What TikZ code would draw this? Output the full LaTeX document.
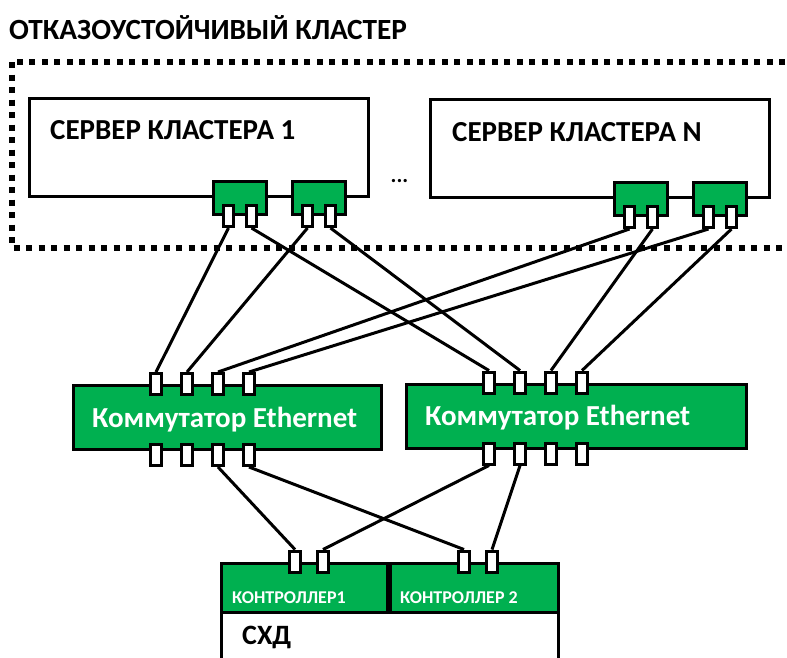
\documentclass[tikz,border=0pt]{standalone}
\usepackage{fontspec}
\setmainfont{Carlito}
\usetikzlibrary{calc}
\usetikzlibrary{positioning}

\definecolor{nicgreen}{RGB}{0,176,80}

\begin{document}
\begin{tikzpicture}[x=1pt,y=-1pt,
        box/.style={draw,line width=3pt,inner sep=0pt},
        srvbox/.style={box,fill=white,minimum width=339pt,minimum height=98pt},
        nicbox/.style={box,fill=nicgreen,minimum width=53pt,minimum height=33pt},
        portbox/.style={box,fill=white,line width=3pt,minimum width=10.5pt,minimum height=21pt},
        swbox/.style={box,fill=nicgreen,minimum height=64pt},
        ctrlbox/.style={box,fill=nicgreen,minimum height=49pt},
        link/.style={line width=3pt},
        dotframe/.style={line width=5.5pt,dash pattern=on 6pt off 6.5pt},
        boxtext/.style={anchor=west,inner sep=0pt,font=\bfseries},
        wtext/.style={boxtext,text=white}]

        \clip (0,0) rectangle (787,657);

        \node[boxtext,font=\bfseries\fontsize{29.3}{32}\selectfont] (title) at (9,28) {ОТКАЗОУСТОЙЧИВЫЙ КЛАСТЕР};
        \draw[dotframe] (12,62) rectangle (800,248);

        % servers with two NICs each
        \node[srvbox] (srv1) at (199,147.5) {};
        \node[srvbox] (srvn) at (600,148.5) {};
        \node[boxtext,font=\bfseries\fontsize{29}{31}\selectfont] (srv1txt) at ([xshift=22pt,yshift=-33pt]srv1.north west) {СЕРВЕР КЛАСТЕРА 1};
        \node[boxtext,font=\bfseries\fontsize{29}{31}\selectfont] (srvntxt) at ([xshift=23pt,yshift=-34pt]srvn.north west) {СЕРВЕР КЛАСТЕРА N};
        \node[inner sep=0pt,font=\bfseries\fontsize{22}{24}\selectfont] (dots) at ([yshift=-33pt]$(srv1.east)!0.5!(srvn.west)$) {...};

        \foreach \s in {srv1,srvn}{
            \node[nicbox] (\s a) at ([xshift=-130pt]\s.south east) {};
            \node[nicbox] (\s b) at ([xshift=-51pt]\s.south east) {};
            \foreach \n in {a,b}{
                \node[portbox] (\s\n1) at ([xshift=-11.5pt]\s\n.south) {};
                \node[portbox] (\s\n2) at ([xshift=11.5pt]\s\n.south) {};
            }
        }

        % switches
        \node[swbox,minimum width=308pt] (sw1) at (227.5,417.5) {};
        \node[swbox,minimum width=340pt] (sw2) at (576.5,416) {};
        \foreach \w in {sw1,sw2}{
            \node[wtext,font=\bfseries\fontsize{29}{31}\selectfont] (\w txt) at ([xshift=20pt,yshift=-2pt]\w.west) {Коммутатор Ethernet};
            \foreach \i in {1,...,4}{
                \node[portbox] (\w up\i) at ([xshift={84pt+31pt*(\i-1)}]\w.north west) {};
                \node[portbox] (\w dn\i) at ([xshift={84pt+31pt*(\i-1)},yshift=-4pt]\w.south west) {};
            }
        }

        % storage with two controllers
        \node[box,fill=white,minimum width=337pt,minimum height=120pt] (stor) at (390,623) {};
        \node[ctrlbox,minimum width=166pt] (ctl1) at (304.5,587.5) {};
        \node[ctrlbox,minimum width=168pt] (ctl2) at (474.5,587.5) {};
        \foreach \c in {ctl1,ctl2}{
            \node[portbox] (\c p1) at ([xshift=75pt]\c.north west) {};
            \node[portbox] (\c p2) at ([xshift=103pt]\c.north west) {};
        }
        \node[wtext,font=\bfseries\fontsize{18}{20}\selectfont] (ctl1txt) at ([xshift=12pt,yshift=-10pt]ctl1.west) {КОНТРОЛЛЕР1};
        \node[wtext,font=\bfseries\fontsize{18}{20}\selectfont] (ctl2txt) at ([xshift=11pt,yshift=-10pt]ctl2.west) {КОНТРОЛЛЕР 2};
        \node[boxtext,font=\bfseries\fontsize{28}{30}\selectfont] (stortxt) at (242,637) {СХД};

        % links servers - switches
        \draw[link] (srv1a1.south) -- (sw1up1.north);
        \draw[link] (srv1b1.south) -- (sw1up2.north);
        \draw[link] (srvna1.south) -- (sw1up3.north);
        \draw[link] (srvnb1.south) -- (sw1up4.north);
        \draw[link] (srv1a2.south) -- (sw2up1.north);
        \draw[link] (srv1b2.south) -- (sw2up2.north);
        \draw[link] (srvna2.south) -- (sw2up3.north);
        \draw[link] (srvnb2.south) -- (sw2up4.north);

        % links switches - controllers
        \draw[link] (sw1dn3.south) -- (ctl1p1.north);
        \draw[link] (sw2dn1.south) -- (ctl1p2.north);
        \draw[link] (sw1dn4.south) -- (ctl2p1.north);
        \draw[link] (sw2dn2.south) -- (ctl2p2.north);
\end{tikzpicture}
\end{document}
